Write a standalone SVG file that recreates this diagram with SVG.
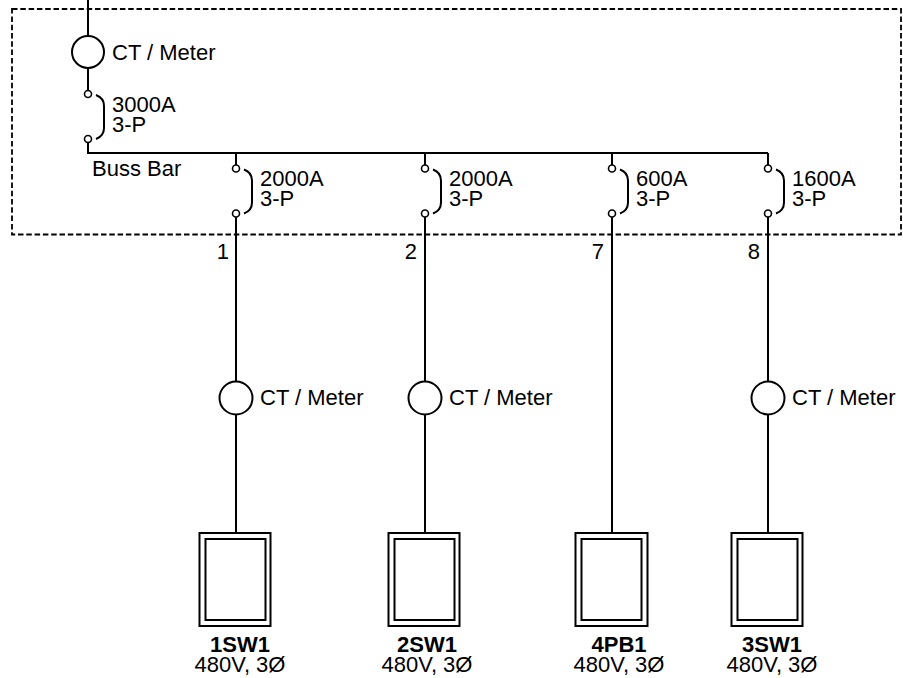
<svg xmlns="http://www.w3.org/2000/svg" width="903" height="678" viewBox="0 0 903 678">
<style>
.ln{fill:none;stroke:#000;stroke-width:2}
.c{fill:#fff;stroke:#000;stroke-width:2}
.sc{fill:#fff;stroke:#000;stroke-width:1.6}
.dash{fill:none;stroke:#000;stroke-width:1.8;stroke-dasharray:5.5 2.8}
text{font-family:"Liberation Sans",Arial,sans-serif;font-size:22px;fill:#000}
.b{font-weight:bold;text-anchor:middle}
.m{text-anchor:middle}
.e{text-anchor:end}
</style>
<rect width="903" height="678" fill="#fff"/>
<rect id="enclosure" class="dash" x="12" y="9" width="889" height="225.5"/>
<g id="connectors">
  <path class="ln" d="M88,0 V36 M88,68 V90.5 M88,142.5 V153 H768"/>
  <path class="ln" d="M236,153 V165 M236,217 V381.5 M236,414.5 V533"/>
  <path class="ln" d="M425,153 V165 M425,217 V381.5 M425,414.5 V533"/>
  <path class="ln" d="M612,153 V165 M612,217 V533"/>
  <path class="ln" d="M768,153 V165 M768,217 V381.5 M768,414.5 V533"/>
</g>
<g id="main-ct">
  <circle class="c" cx="88" cy="52" r="16"/>
  <text x="112" y="60">CT / Meter</text>
</g>
<g id="main-breaker">
  <circle class="sc" cx="88" cy="94" r="3.5"/>
  <circle class="sc" cx="88" cy="139" r="3.5"/>
  <path class="ln" d="M96,95 Q104,98 104,106 V128 Q104,136 96,139"/>
  <text x="112" y="112">3000A</text>
  <text x="112" y="132">3-P</text>
</g>
<text id="buss-bar" x="92" y="176">Buss Bar</text>
<g id="breaker-1">
  <circle class="sc" cx="236" cy="168.5" r="3.5"/>
  <circle class="sc" cx="236" cy="213.5" r="3.5"/>
  <path class="ln" d="M244,169.5 Q252,172.5 252,180.5 V202.5 Q252,210.5 244,213.5"/>
  <text x="260" y="186">2000A</text>
  <text x="260" y="206">3-P</text>
  <text class="e" x="229" y="259">1</text>
</g>
<g id="breaker-2">
  <circle class="sc" cx="425" cy="168.5" r="3.5"/>
  <circle class="sc" cx="425" cy="213.5" r="3.5"/>
  <path class="ln" d="M433,169.5 Q441,172.5 441,180.5 V202.5 Q441,210.5 433,213.5"/>
  <text x="449" y="186">2000A</text>
  <text x="449" y="206">3-P</text>
  <text class="e" x="417" y="259">2</text>
</g>
<g id="breaker-7">
  <circle class="sc" cx="612" cy="168.5" r="3.5"/>
  <circle class="sc" cx="612" cy="213.5" r="3.5"/>
  <path class="ln" d="M620,169.5 Q628,172.5 628,180.5 V202.5 Q628,210.5 620,213.5"/>
  <text x="636" y="186">600A</text>
  <text x="636" y="206">3-P</text>
  <text class="e" x="604" y="259">7</text>
</g>
<g id="breaker-8">
  <circle class="sc" cx="768" cy="168.5" r="3.5"/>
  <circle class="sc" cx="768" cy="213.5" r="3.5"/>
  <path class="ln" d="M776,169.5 Q784,172.5 784,180.5 V202.5 Q784,210.5 776,213.5"/>
  <text x="792" y="186">1600A</text>
  <text x="792" y="206">3-P</text>
  <text class="e" x="760" y="259">8</text>
</g>
<g id="ct-1"><circle class="c" cx="236" cy="398" r="16.5"/><text x="260" y="405">CT / Meter</text></g>
<g id="ct-2"><circle class="c" cx="425" cy="398" r="16.5"/><text x="449" y="405">CT / Meter</text></g>
<g id="ct-8"><circle class="c" cx="768" cy="398" r="16.5"/><text x="792" y="405">CT / Meter</text></g>
<g id="load-1SW1">
  <rect class="ln" x="199.5" y="533" width="71" height="93"/>
  <rect class="ln" x="205.5" y="539" width="60" height="81"/>
  <text class="b" x="240" y="652">1SW1</text>
  <text class="m" x="240" y="672">480V, 3Ø</text>
</g>
<g id="load-2SW1">
  <rect class="ln" x="388.5" y="533" width="71" height="93"/>
  <rect class="ln" x="394.5" y="539" width="60" height="81"/>
  <text class="b" x="427" y="652">2SW1</text>
  <text class="m" x="427" y="672">480V, 3Ø</text>
</g>
<g id="load-4PB1">
  <rect class="ln" x="575.5" y="533" width="72" height="93"/>
  <rect class="ln" x="581.5" y="539" width="60" height="81"/>
  <text class="b" x="619" y="652">4PB1</text>
  <text class="m" x="619" y="672">480V, 3Ø</text>
</g>
<g id="load-3SW1">
  <rect class="ln" x="731.5" y="533" width="71" height="93"/>
  <rect class="ln" x="737.5" y="539" width="60" height="81"/>
  <text class="b" x="772" y="652">3SW1</text>
  <text class="m" x="772" y="672">480V, 3Ø</text>
</g>
</svg>
